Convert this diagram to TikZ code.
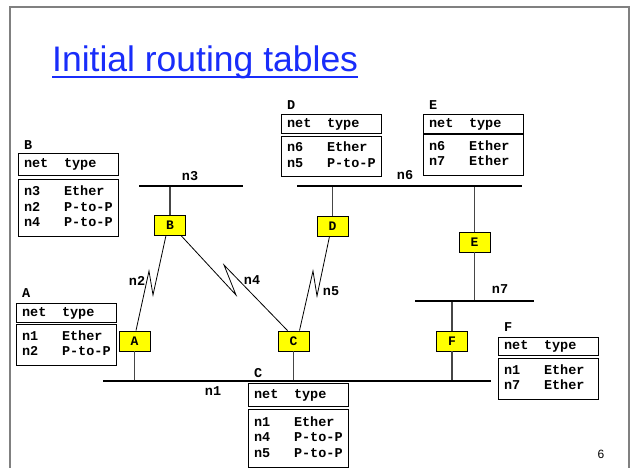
\documentclass[tikz,border=0pt]{standalone}
\usepackage{fontspec}
\setmainfont{Liberation Sans}
\setmonofont{Liberation Mono}
\usetikzlibrary{calc}
\definecolor{titleblue}{RGB}{25,45,250}
\definecolor{framegray}{RGB}{128,128,128}
\definecolor{rtyellow}{RGB}{255,255,0}
\definecolor{dropgray}{RGB}{70,70,70}
\newcommand\rtable[8]{%
  \node[mono, anchor=west] (t#1lab) at (#2+6,#3) {#1};
  \node[tbox, minimum height=#5] (t#1head) at (#2,#4)
    {\begin{tabular}{@{}p{40pt}@{}p{49pt}@{}}net&type\end{tabular}};
  \node[tbox, minimum height=#7] (t#1body) at (#2,#6)
    {\begin{tabular}{@{}p{40pt}@{}p{49pt}@{}}#8\end{tabular}};
}
\begin{document}
\begin{tikzpicture}[x=1pt,y=-1pt,
  mono/.style={font=\fontsize{13.5}{15.5}\selectfont\ttfamily\bfseries, inner sep=0pt},
  router/.style={draw=black, line width=0.9pt, fill=rtyellow, minimum width=31pt,
    minimum height=20pt, inner sep=0pt, font=\fontsize{13}{15}\selectfont\ttfamily\bfseries},
  tbox/.style={draw=black, line width=1.1pt, anchor=north west, minimum width=100pt,
    inner xsep=5.5pt, inner ysep=0pt, font=\fontsize{13.5}{15.5}\selectfont\ttfamily\bfseries},
  netline/.style={line width=1.8pt, black},
  drop/.style={line width=1.6pt, dropgray},
  link/.style={line width=0.8pt, black}]
\useasboundingbox (0,0) rectangle (632,468);
\fill[white] (0,0) rectangle (632,468);
\draw[framegray, line width=2pt] (9.5,468) -- (9.5,7) -- (629,7) -- (629,468);

% title
\node[anchor=base west, inner sep=0pt, text=titleblue, font=\fontsize{35.5}{40}\selectfont]
  (title) at (52,72) {Initial routing tables};
\draw[titleblue, line width=1.8pt] ([yshift=-5pt]title.base west) -- ([yshift=-5pt]title.base east);
\node[font=\fontsize{12}{14}\selectfont] (pageno) at (601,454) {6};

% network end points
\coordinate (n3L) at (139,186); \coordinate (n3R) at (243,186);
\coordinate (n6L) at (297,186); \coordinate (n6R) at (522,186);
\coordinate (n7L) at (415,301); \coordinate (n7R) at (534,301);
\coordinate (n1L) at (103,381); \coordinate (n1R) at (491,381);

% routers
\node[router] (B) at (170,225) {B};
\node[router] (D) at (332.5,226) {D};
\node[router] (E) at (474.5,242) {E};
\node[router] (A) at (134.5,341) {A};
\node[router] (C) at (293.5,341) {C};
\node[router] (F) at (452,341) {F};

% drops
\draw[drop] (B.north) -- (B.north |- n3L);
\draw[drop] (D.north) -- (D.north |- n6L);
\draw[drop] (E.north) -- (E.north |- n6L);
\draw[drop] (E.south) -- (E.south |- n7L);
\draw[drop] (F.north) -- (F.north |- n7L);
\draw[drop] (F.south) -- (F.south |- n1L);
\draw[drop] (A.south) -- (A.south |- n1L);
\draw[drop] (C.south) -- (C.south |- n1L);

% networks
\draw[netline] (n3L) -- (n3R);
\draw[netline] (n6L) -- (n6R);
\draw[netline] (n7L) -- (n7R);
\draw[netline] (n1L) -- (n1R);

% point-to-point links
\coordinate (z2a) at (153,295); \coordinate (z2b) at (149,271);
\draw[link] ([xshift=-4pt]B.south) -- (z2a) -- (z2b) -- ([xshift=1.5pt]A.north);
\coordinate (z4a) at (236,295); \coordinate (z4b) at (224,265);
\draw[link] ([xshift=-5pt]B.south east) -- (z4a) -- (z4b) -- ([xshift=-6pt]C.north);
\coordinate (z5a) at (317,296); \coordinate (z5b) at (313,271);
\draw[link] ([xshift=-3pt]D.south) -- (z5a) -- (z5b) -- ([xshift=6pt]C.north);

% labels
\node[mono] (ln3) at (190,176) {n3};
\node[mono] (ln6) at (405,175) {n6};
\node[mono] (ln7) at (500,289) {n7};
\node[mono] (ln1) at (213,391) {n1};
\node[mono] (ln2) at (137,281) {n2};
\node[mono] (ln4) at (252,280) {n4};
\node[mono] (ln5) at (331,291) {n5};

% routing tables
\rtable{B}{18}{145}{153}{22}{179}{57}{n3&Ether\\n2&P-to-P\\n4&P-to-P}
\rtable{A}{16}{293}{303}{19}{324}{41}{n1&Ether\\n2&P-to-P}
\rtable{D}{281}{105}{114}{19}{136}{40}{n6&Ether\\n5&P-to-P}
\rtable{E}{423}{105}{114}{19}{134}{41}{n6&Ether\\n7&Ether}
\rtable{F}{498}{327}{337}{18}{358}{41}{n1&Ether\\n7&Ether}
\rtable{C}{248}{373}{383}{23}{409}{58}{n1&Ether\\n4&P-to-P\\n5&P-to-P}
\end{tikzpicture}
\end{document}
